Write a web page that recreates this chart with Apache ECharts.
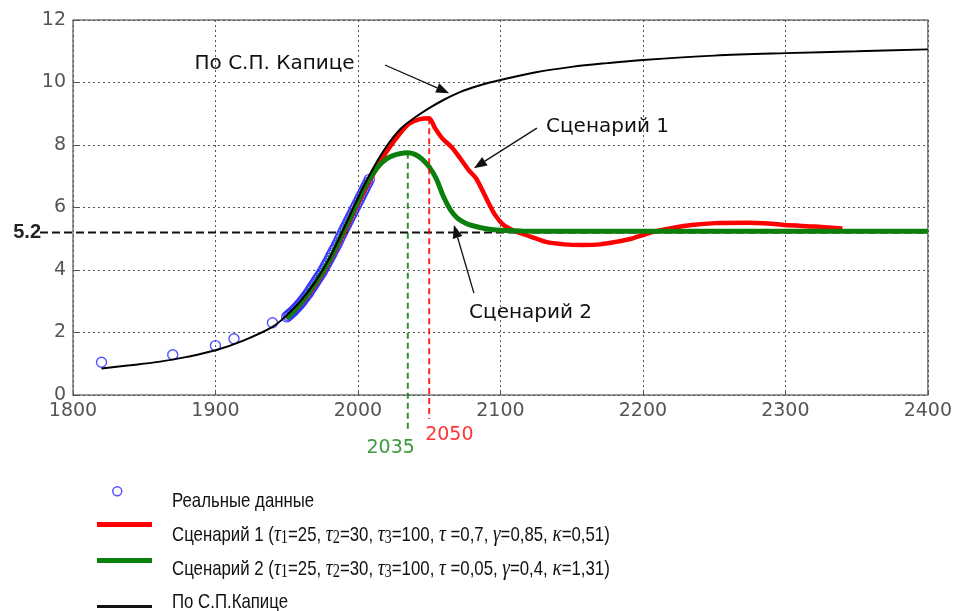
<!DOCTYPE html>
<html>
<head>
<meta charset="utf-8">
<script src="https://cdn.jsdelivr.net/npm/echarts@6/dist/echarts.min.js"></script>
<style>
  html, body { margin: 0; padding: 0; background: #fff; }
  #chart { width: 955px; height: 611px; }
</style>
</head>
<body>
<div id="chart"></div>
<script>
// World population, billions
const observedYears = [1820, 1870, 1900, 1913, 1940,
  1950, 1951, 1952, 1953, 1954, 1955, 1956, 1957, 1958, 1959,
  1960, 1961, 1962, 1963, 1964, 1965, 1966, 1967, 1968, 1969,
  1970, 1971, 1972, 1973, 1974, 1975, 1976, 1977, 1978, 1979,
  1980, 1981, 1982, 1983, 1984, 1985, 1986, 1987, 1988, 1989,
  1990, 1991, 1992, 1993, 1994, 1995, 1996, 1997, 1998, 1999,
  2000, 2001, 2002, 2003, 2004, 2005, 2006, 2007, 2008];
const observedValues = [1.05, 1.29, 1.58, 1.80, 2.31,
  2.50, 2.54, 2.58, 2.62, 2.66, 2.70, 2.75, 2.80, 2.85, 2.90,
  2.95, 3.01, 3.07, 3.13, 3.19, 3.25, 3.32, 3.39, 3.46, 3.53,
  3.60, 3.67, 3.74, 3.81, 3.88, 3.95, 4.03, 4.12, 4.20, 4.28,
  4.37, 4.46, 4.54, 4.63, 4.71, 4.80, 4.89, 4.99, 5.08, 5.18,
  5.27, 5.36, 5.45, 5.54, 5.63, 5.72, 5.81, 5.90, 5.99, 6.08,
  6.17, 6.26, 6.35, 6.44, 6.53, 6.62, 6.71, 6.80, 6.90];

const scenario1Years = [1950, 1960, 1970, 1980, 1990, 2000, 2010, 2020, 2030, 2036, 2043, 2050,
  2054, 2059, 2066, 2072, 2078, 2083, 2090, 2096, 2102, 2110, 2118, 2132, 2145, 2157, 2170, 2181,
  2192, 2200, 2210, 2220, 2234, 2251, 2274, 2288, 2300, 2321, 2340];
const scenario1Values = [2.45, 2.92, 3.52, 4.27, 5.17, 6.12, 7.0, 7.78, 8.4, 8.68, 8.82, 8.86,
  8.55, 8.22, 7.92, 7.56, 7.18, 6.93, 6.3, 5.78, 5.45, 5.25, 5.12, 4.9, 4.82, 4.8, 4.82, 4.9,
  5.0, 5.12, 5.25, 5.34, 5.44, 5.5, 5.51, 5.49, 5.44, 5.39, 5.33];

const scenario2Years = [1950, 1960, 1970, 1980, 1990, 2000, 2005, 2010, 2015, 2020, 2025, 2030,
  2035, 2040, 2045, 2050, 2055, 2060, 2065, 2070, 2076, 2082, 2090, 2100, 2115, 2140, 2400];
const scenario2Values = [2.45, 2.95, 3.57, 4.32, 5.25, 6.2, 6.68, 7.05, 7.35, 7.55, 7.67, 7.73,
  7.75, 7.7, 7.55, 7.3, 6.92, 6.35, 5.92, 5.65, 5.49, 5.4, 5.32, 5.27, 5.25, 5.24, 5.24];

const kapitsaYears = [1820, 1840, 1860, 1880, 1900, 1920, 1940, 1950, 1960, 1970, 1980, 1990,
  2000, 2010, 2020, 2030, 2040, 2050, 2060, 2070, 2080, 2090, 2100, 2125, 2150, 2175, 2200,
  2250, 2300, 2350, 2400];
const kapitsaValues = [0.85, 0.95, 1.06, 1.22, 1.43, 1.75, 2.18, 2.55, 3.02, 3.62, 4.38, 5.32,
  6.3, 7.2, 7.95, 8.52, 8.88, 9.18, 9.44, 9.66, 9.83, 9.97, 10.08, 10.33, 10.5, 10.62, 10.72,
  10.86, 10.94, 11.0, 11.06];

// Stabilisation level and peak years
const plateauLevel = 5.2;
const peakYears = [2035, 2050];

const seriesNames = ['Реальные данные', 'Сценарий 1', 'Сценарий 2', 'По С.П.Капице'];

// Callout captions and their arrows, in data units
const calloutLabels = [
  { text: 'По С.П. Капице', at: [1941.5, 10.6], align: 'center' },
  { text: 'Сценарий 1', at: [2132, 8.58], align: 'left' },
  { text: 'Сценарий 2', at: [2078, 2.62], align: 'left' }
];
const calloutArrows = [
  [2019, 10.56, 2064, 9.66],
  [2125.6, 8.54, 2081.4, 7.26],
  [2081.4, 3.26, 2067.4, 5.44]
];

const zip = (xs, ys) => xs.map((x, i) => [x, ys[i]]);
const valueAt = (xs, ys, x) => ys[xs.indexOf(x)];

const RED = '#ff0000';
const GREEN = '#0b7f0b';
const BLUE = '#2a2aff';
const SANS = "'DejaVu Sans', Verdana, sans-serif";
const ARIAL = "'Liberation Sans', Arial, sans-serif";
const SERIF = "'Liberation Serif', 'Times New Roman', serif";

// [year, value, colour, extension below axis, label align, label dx, label dy]
const peakPoints = [
  [peakYears[0], valueAt(scenario2Years, scenario2Values, peakYears[0]), GREEN, 34, 'right', 7, 19],
  [peakYears[1], valueAt(scenario1Years, scenario1Values, peakYears[1]), RED, 24, 'left', -4, 16]
];

// Key captions (condensed face), with Greek parameters and subscripts
const keyText = {
  'Реальные данные': 'Реальные данные',
  'Сценарий 1': 'Сценарий 1 ({g|τ}{s|1}=25, {g|τ}{s|2}=30, {g|τ}{s|3}=100, {g|τ} =0,7, {g|γ}=0,85, {g|κ}=0,51)',
  'Сценарий 2': 'Сценарий 2 ({g|τ}{s|1}=25, {g|τ}{s|2}=30, {g|τ}{s|3}=100, {g|τ} =0,05, {g|γ}=0,4, {g|κ}=1,31)',
  'По С.П.Капице': 'По С.П.Капице'
};
const keyRows = [501, 535, 569, 602];
const keyRich = {
  g: { fontFamily: SERIF, fontStyle: 'italic', fontSize: 24, fill: '#111' },
  s: { fontFamily: SERIF, fontSize: 18, lineHeight: 8, verticalAlign: 'bottom', fill: '#111' }
};

function legendRow(name, icon, itemStyle, w, h, left, top) {
  return {
    data: [{ name: name, icon: icon, itemStyle: itemStyle }],
    left: left, top: top, padding: 0,
    itemWidth: w, itemHeight: h,
    selectedMode: false,
    formatter: () => '',
    textStyle: { fontSize: 1 }
  };
}

const chart = echarts.init(document.getElementById('chart'), null, { renderer: 'canvas' });

const gridLine = { show: true, lineStyle: { color: '#555', width: 1, type: [2, 3] } };
const axisLabel = { fontFamily: SANS, fontSize: 19, color: '#555', formatter: v => String(v) };

chart.setOption({
  backgroundColor: '#fff',
  animation: false,
  grid: { left: 73, right: 25, top: 20, bottom: 216, show: true, borderColor: '#777', borderWidth: 1.5, backgroundColor: 'transparent' },
  xAxis: {
    type: 'value', min: 1800, max: 2400, interval: 100,
    axisLine: { show: false },
    axisTick: { show: true, inside: true, length: 5, lineStyle: { color: '#555' } },
    axisLabel: Object.assign({ margin: 7 }, axisLabel),
    splitLine: gridLine
  },
  yAxis: {
    type: 'value', min: 0, max: 12, interval: 2,
    axisLine: { show: false },
    axisTick: { show: true, inside: true, length: 5, lineStyle: { color: '#555' } },
    axisLabel: Object.assign({ margin: 7 }, axisLabel),
    splitLine: gridLine
  },
  legend: [
    legendRow(seriesNames[0], 'circle', { color: 'rgba(0,0,0,0)', borderColor: BLUE, borderWidth: 1.5 }, 9, 9, 112, 486),
    legendRow(seriesNames[1], 'rect', { color: RED, borderWidth: 0 }, 55, 5, 97, 522),
    legendRow(seriesNames[2], 'rect', { color: GREEN, borderWidth: 0 }, 55, 5, 97, 558),
    legendRow(seriesNames[3], 'rect', { color: '#111', borderWidth: 0 }, 55, 3, 97, 605)
  ],
  graphic: seriesNames.map((name, i) => ({
    type: 'text', x: 172, y: keyRows[i], scaleX: 0.8, silent: true,
    style: { text: keyText[name], fontFamily: ARIAL, fontSize: 21, fill: '#111', verticalAlign: 'middle', rich: keyRich }
  })),
  series: [
    {
      name: seriesNames[0], type: 'scatter', z: 2,
      data: zip(observedYears, observedValues),
      symbol: 'circle', symbolSize: 10,
      itemStyle: { color: 'rgba(0,0,0,0)', borderColor: BLUE, borderWidth: 1.4 }
    },
    {
      name: seriesNames[1], type: 'line', z: 3, symbol: 'none', smooth: 0.25,
      data: zip(scenario1Years, scenario1Values),
      lineStyle: { color: RED, width: 4.5 }, itemStyle: { color: RED }
    },
    {
      name: seriesNames[2], type: 'line', z: 4, symbol: 'none', smooth: 0.3,
      data: zip(scenario2Years, scenario2Values),
      lineStyle: { color: GREEN, width: 5 }, itemStyle: { color: GREEN }
    },
    {
      name: seriesNames[3], type: 'line', z: 5, symbol: 'none', smooth: 0.35,
      data: zip(kapitsaYears, kapitsaValues),
      lineStyle: { color: '#000', width: 2 }, itemStyle: { color: '#000' }
    },
    {
      // stabilisation level, carried out past the axis to its caption
      type: 'custom', z: 3, silent: true,
      data: [[2400, plateauLevel]],
      encode: { x: 0, y: 1 },
      renderItem: (params, api) => {
        const right = api.coord([api.value(0), api.value(1)]);
        const left = api.coord([1800, api.value(1)]);
        const x0 = left[0] - 33;
        return {
          type: 'group',
          children: [
            { type: 'line', shape: { x1: x0, y1: right[1], x2: right[0], y2: right[1] },
              style: { stroke: '#111', lineWidth: 2, lineDash: [8, 4] } },
            { type: 'text', style: { text: String(plateauLevel), x: x0 + 1, y: right[1],
                align: 'right', verticalAlign: 'middle', font: 'bold 20px ' + ARIAL, fill: '#222' } }
          ]
        };
      }
    },
    {
      // drop lines from the peaks, with their years
      type: 'custom', z: 6, silent: true,
      data: peakPoints,
      encode: { x: 0, y: 1 },
      renderItem: (params, api) => {
        const p = peakPoints[params.dataIndex];
        const top = api.coord([p[0], p[1]]);
        const base = api.coord([p[0], 0]);
        const yEnd = base[1] + p[3];
        return {
          type: 'group',
          children: [
            { type: 'line', shape: { x1: top[0], y1: top[1], x2: top[0], y2: yEnd },
              style: { stroke: p[2], lineWidth: 2, lineDash: [6, 4], opacity: 0.85 } },
            { type: 'text', style: { text: String(p[0]), x: top[0] + p[5], y: yEnd + p[6],
                align: p[4], verticalAlign: 'middle', font: '19px ' + SANS, fill: p[2], opacity: 0.8 } }
          ]
        };
      }
    },
    {
      // callout arrows
      type: 'custom', z: 7, silent: true,
      data: calloutArrows,
      encode: { x: [0, 2], y: [1, 3] },
      renderItem: (params, api) => {
        const a = api.coord([api.value(0), api.value(1)]);
        const b = api.coord([api.value(2), api.value(3)]);
        const dx = b[0] - a[0], dy = b[1] - a[1];
        const len = Math.sqrt(dx * dx + dy * dy);
        const ux = dx / len, uy = dy / len;
        const head = 13, half = 5;
        const bx = b[0] - ux * head, by = b[1] - uy * head;
        return {
          type: 'group',
          children: [
            { type: 'line', shape: { x1: a[0], y1: a[1], x2: bx, y2: by },
              style: { stroke: '#111', lineWidth: 1.3 } },
            { type: 'polygon', shape: { points: [[b[0], b[1]], [bx - uy * half, by + ux * half], [bx + uy * half, by - ux * half]] },
              style: { fill: '#111' } }
          ]
        };
      }
    },
    {
      // callout captions
      type: 'custom', z: 7, silent: true,
      data: calloutLabels.map(c => c.at),
      encode: { x: 0, y: 1 },
      renderItem: (params, api) => {
        const c = calloutLabels[params.dataIndex];
        const p = api.coord([api.value(0), api.value(1)]);
        return { type: 'text', style: { text: c.text, x: p[0], y: p[1], align: c.align, verticalAlign: 'middle',
          font: '20px ' + SANS, fill: '#111' } };
      }
    }
  ]
});
</script>
</body>
</html>
